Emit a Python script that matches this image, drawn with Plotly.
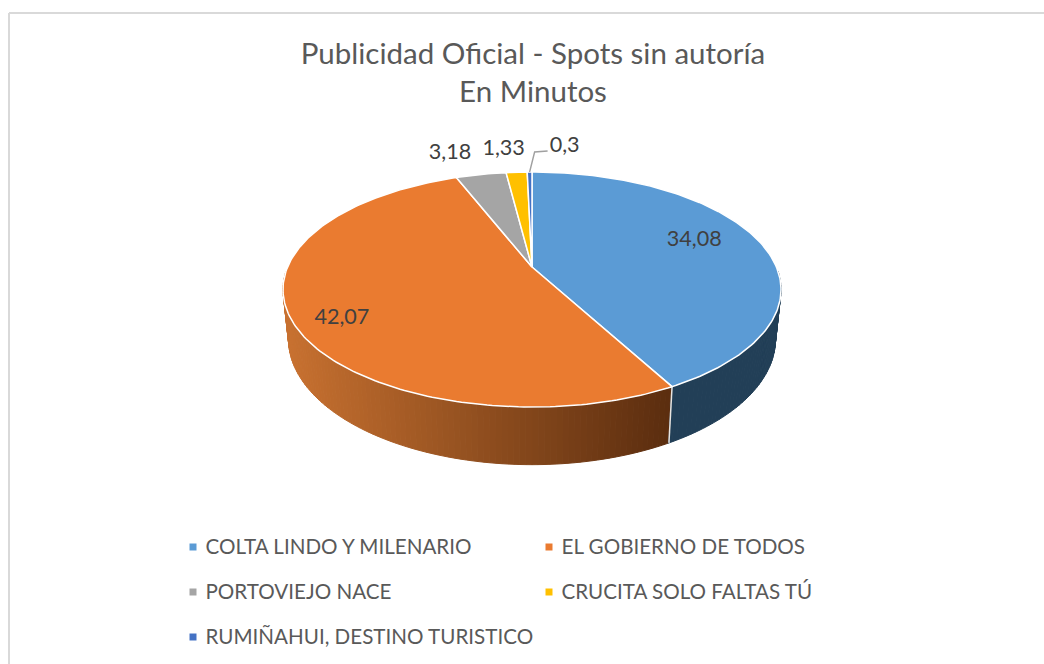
import math
import plotly.graph_objects as go

categories = ["COLTA LINDO Y MILENARIO", "EL GOBIERNO DE TODOS", "PORTOVIEJO NACE",
              "CRUCITA SOLO FALTAS TÚ", "RUMIÑAHUI, DESTINO TURISTICO"]
values = [34.08, 42.07, 3.18, 1.33, 0.3]
colors = ["#5b9bd5", "#ea7b30", "#a5a5a5", "#ffc000", "#4472c4"]
title_lines = ["Publicidad Oficial - Spots sin autoría", "En Minutos"]

# label centre offset from the slice's mid-rim point, in pixels
label_offsets = [(-64, 0), (51, 0), (-31, -21), (-13, -23), (35, -25)]
legend_pos = [(193, 547), (549, 547), (193, 592), (549, 592), (193, 637)]

CX, CY = 532, 267
C = 0.1915
M, K = 244.4, 113.2
M2, K2, Y2 = 239, 121, 315
FONT = "Lato, Carlito, Calibri, sans-serif"


def top(t, r=1.0):
    d = 1 + C * r * math.cos(t)
    return CX + M * r * math.sin(t) / d, CY - K * r * math.cos(t) / d


def bottom(t):
    d = 1 + C * math.cos(t)
    return CX + M2 * math.sin(t) / d, Y2 - K2 * math.cos(t) / d


def lerp(a, b, f):
    return tuple(int(round(a[i] + (b[i] - a[i]) * f)) for i in range(3))


def hexs(c):
    return "rgb(%d,%d,%d)" % c


total = sum(values)
angles = [0.0]
for v in values:
    angles.append(angles[-1] + v / total * 2 * math.pi)

fig = go.Figure()


def poly(xs, ys, fill, line=None, width=0):
    fig.add_trace(go.Scatter(x=xs, y=ys, mode="lines", fill="toself", fillcolor=fill,
                             line=dict(color=line or fill, width=width),
                             hoverinfo="skip", showlegend=False))


# Side wall: blue slice (flat dark), orange slice (horizontal gradient)
LEFT, RIGHT = (200, 113, 48), (92, 46, 15)
LIM0, LIM1 = math.radians(92), math.radians(268)
N = 150
for i in range(N):
    a = LIM0 + (LIM1 - LIM0) * i / N
    b = LIM0 + (LIM1 - LIM0) * (i + 1) / N
    xa, ya = top(a)
    xb, yb = top(b)
    xc, yc = bottom(b)
    xd, yd = bottom(a)
    mid = (a + b) / 2
    if mid < angles[1]:
        col = (34, 63, 87)
    else:
        f = (max(xa, xb) - 285) / (669 - 285)
        col = lerp(LEFT, RIGHT, min(1, max(0, f)))
    poly([xa, xb, xc, xd, xa], [ya, yb, yc, yd, ya], hexs(col), width=1)

# Divider on the wall between the first two slices
xa, ya = top(angles[1])
xb, yb = bottom(angles[1])
fig.add_trace(go.Scatter(x=[xa, xb], y=[ya, yb], mode="lines",
                         line=dict(color="#e9e4df", width=1.5), hoverinfo="skip", showlegend=False))

# Top face slices
for i, v in enumerate(values):
    n = max(3, int(v / total * 360))
    ts = [angles[i] + (angles[i + 1] - angles[i]) * j / n for j in range(n + 1)]
    pts = [top(t) for t in ts]
    xs = [CX] + [p[0] for p in pts] + [CX]
    ys = [CY] + [p[1] for p in pts] + [CY]
    poly(xs, ys, colors[i], line="#ffffff", width=1.5)

# Leader line for the smallest slice
lx, ly = top((angles[4] + angles[5]) / 2)
fig.add_trace(go.Scatter(x=[lx, lx + 5, lx + 18], y=[ly, ly - 20, ly - 21], mode="lines",
                         line=dict(color="#a0a0a0", width=1.4), hoverinfo="skip", showlegend=False))

# Data labels
for i, v in enumerate(values):
    mx, my = top((angles[i] + angles[i + 1]) / 2)
    dx, dy = label_offsets[i]
    fig.add_trace(go.Scatter(x=[mx + dx], y=[my + dy], mode="text",
                             text=[("%g" % v).replace(".", ",")],
                             textposition="middle center",
                             textfont=dict(family=FONT, size=21.6, color="#404040"),
                             hoverinfo="skip", showlegend=False))

# Legend
for i, name in enumerate(categories):
    px, py = legend_pos[i]
    fig.add_trace(go.Scatter(x=[px], y=[py], mode="markers",
                             marker=dict(symbol="square", size=7, color=colors[i]),
                             name=name, hoverinfo="skip", showlegend=False))
    fig.add_trace(go.Scatter(x=[px + 12.5], y=[py + 1.5], mode="text",
                             text=[name], textposition="middle right",
                             textfont=dict(family=FONT, size=20.6, color="#595959"),
                             hoverinfo="skip", showlegend=False))

fig.update_layout(
    width=1044, height=664, margin=dict(l=0, r=0, t=0, b=0),
    paper_bgcolor="white", plot_bgcolor="white", showlegend=False,
    title=dict(text="<br>".join(title_lines), x=533 / 1044, xanchor="center",
               y=1 - 64 / 664, yanchor="top",
               font=dict(family=FONT, size=29.5, color="#595959")),
    xaxis=dict(range=[0, 1044], visible=False, fixedrange=True),
    yaxis=dict(range=[664, 0], visible=False, fixedrange=True),
    shapes=[
        dict(type="line", x0=9, x1=9, y0=13, y1=664, line=dict(color="#d9d9d9", width=2)),
        dict(type="line", x0=9, x1=1044, y0=13, y1=13, line=dict(color="#d9d9d9", width=2)),
    ],
)
fig.write_html("out.html", config=dict(displayModeBar=False),
               post_script="document.body.style.margin='0';document.body.style.overflow='hidden';")
